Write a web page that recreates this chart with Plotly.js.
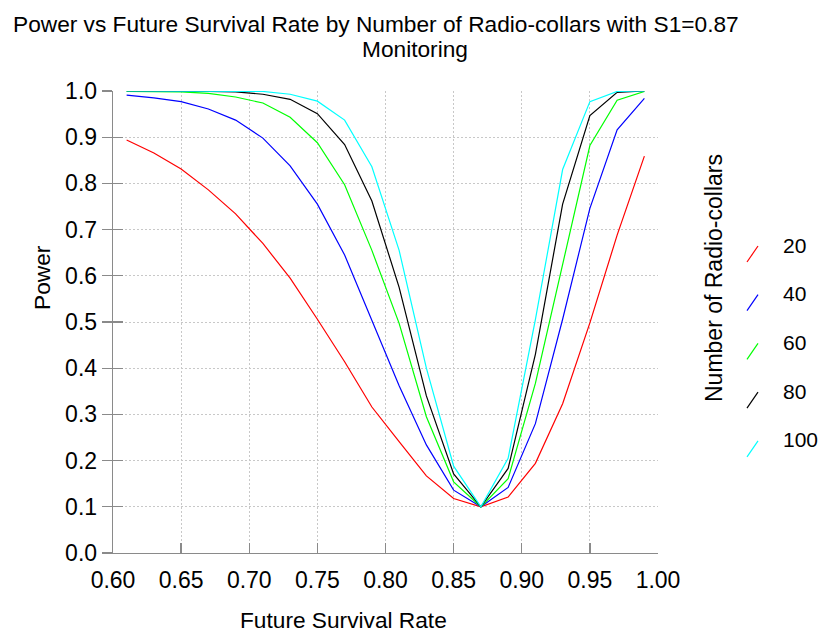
<!DOCTYPE html>
<html>
<head>
<meta charset="utf-8">
<script src="https://cdn.plot.ly/plotly-3.0.1.min.js"></script>
<style>html,body{margin:0;padding:0;background:#fff;}#chart{width:818px;height:634px;}</style>
</head>
<body>
<div id="chart"></div>
<script>
// ---- data ----
const survivalRates = [0.61,0.63,0.65,0.67,0.69,0.71,0.73,0.75,0.77,0.79,0.81,0.83,0.85,0.87,0.89,0.91,0.93,0.95,0.97,0.99];
const collarCounts = ["20","40","60","80","100"];
const power20  = [0.894,0.866,0.831,0.786,0.734,0.670,0.595,0.506,0.414,0.316,0.241,0.167,0.118,0.100,0.121,0.194,0.323,0.498,0.688,0.859];
const power40  = [0.991,0.985,0.977,0.961,0.937,0.898,0.838,0.755,0.645,0.505,0.362,0.234,0.136,0.100,0.142,0.280,0.506,0.746,0.916,0.984];
const power60  = [0.999,0.999,0.998,0.995,0.987,0.974,0.943,0.888,0.797,0.655,0.497,0.295,0.154,0.100,0.161,0.367,0.622,0.882,0.980,0.999];
const power80  = [1.000,1.000,1.000,0.999,0.998,0.993,0.982,0.951,0.884,0.762,0.575,0.340,0.171,0.100,0.183,0.430,0.755,0.947,0.997,1.000];
const power100 = [1.000,1.000,1.000,1.000,1.000,0.999,0.993,0.978,0.937,0.836,0.655,0.400,0.188,0.100,0.205,0.505,0.830,0.977,0.999,1.000];
const seriesValues = [power20, power40, power60, power80, power100];
const seriesColors = ["#ff0000","#0000ff","#00ff00","#000000","#00ffff"];
const xTickVals = [0.60,0.65,0.70,0.75,0.80,0.85,0.90,0.95,1.00];
const yTickVals = [0.0,0.1,0.2,0.3,0.4,0.5,0.6,0.7,0.8,0.9,1.0];
const titleLine1 = "Power vs Future Survival Rate by Number of Radio-collars with S1=0.87";
const titleLine2 = "Monitoring";
const xTitle = "Future Survival Rate";
const yTitle = "Power";
const legendTitle = "Number of Radio-collars";

// ---- layout geometry ----
const W = 818, H = 634;
const M = {l: 113, r: 160, t: 91, b: 81};
const PW = W - M.l - M.r, PH = H - M.t - M.b;
const px = v => (v - M.l) / PW;          // pixel x -> paper
const py = v => (H - M.b - v) / PH;      // pixel y -> paper
const FONT = "Liberation Sans, Arial, sans-serif";
const axisGray = "#8a8a8a";
const tickFont = {family: FONT, size: 23, color: "#000"};

const traces = seriesValues.map((vals, i) => ({
  type: "scatter", mode: "lines",
  x: survivalRates, y: vals,
  name: collarCounts[i],
  line: {color: seriesColors[i], width: 1.2},
  hoverinfo: "skip"
}));
// empty helper trace so the overlaid inner-tick axis is drawn
traces.push({type: "scatter", mode: "lines", x: [], y: [], yaxis: "y2", showlegend: false, hoverinfo: "skip"});

const annotations = [
  {text: titleLine1, x: px(376), y: py(24), xref: "paper", yref: "paper", xanchor: "center", yanchor: "middle", showarrow: false, font: {family: FONT, size: 22.7, color: "#000"}},
  {text: titleLine2, x: px(415), y: py(49), xref: "paper", yref: "paper", xanchor: "center", yanchor: "middle", showarrow: false, font: {family: FONT, size: 22.7, color: "#000"}},
  {text: xTitle, x: px(343), y: py(620), xref: "paper", yref: "paper", xanchor: "center", yanchor: "middle", showarrow: false, font: {family: FONT, size: 22.7, color: "#000"}},
  {text: yTitle, x: px(42), y: py(278), xref: "paper", yref: "paper", xanchor: "center", yanchor: "middle", textangle: -90, showarrow: false, font: {family: FONT, size: 22.7, color: "#000"}},
  {text: legendTitle, x: px(714), y: py(278), xref: "paper", yref: "paper", xanchor: "center", yanchor: "middle", textangle: -90, showarrow: false, font: {family: FONT, size: 23, color: "#000"}}
];
const shapes = [];
const legTop = 245, legStep = 48.7;
collarCounts.forEach((lab, i) => {
  const cy = legTop + i * legStep;
  annotations.push({text: lab, x: px(781), y: py(cy), xref: "paper", yref: "paper", xanchor: "left", yanchor: "middle", showarrow: false, font: {family: FONT, size: 21, color: "#000"}});
  shapes.push({type: "line", xref: "paper", yref: "paper", x0: px(747), y0: py(cy + 17), x1: px(758), y1: py(cy + 1), line: {color: seriesColors[i], width: 1.2}});
});

const layout = {
  width: W, height: H,
  margin: M,
  paper_bgcolor: "#fff", plot_bgcolor: "#fff",
  showlegend: false,
  font: {family: FONT, size: 22, color: "#000"},
  xaxis: {
    range: [0.6, 1.0], tickvals: xTickVals, tickformat: ".2f",
    ticks: "inside", ticklen: 10, tickcolor: axisGray, tickwidth: 1.3,
    showline: true, linecolor: axisGray, linewidth: 1.3,
    showgrid: true, gridcolor: "#c8c8c8", gridwidth: 1, griddash: "2px,2px",
    zeroline: false, tickfont: tickFont, ticklabelstandoff: 6
  },
  yaxis: {
    range: [0, 1.0], tickvals: yTickVals, tickformat: ".1f",
    ticks: "outside", ticklen: 10, tickcolor: axisGray, tickwidth: 1.3,
    showline: true, linecolor: axisGray, linewidth: 1.3,
    showgrid: true, gridcolor: "#c8c8c8", gridwidth: 1, griddash: "2px,2px",
    zeroline: false, tickfont: tickFont
  },
  yaxis2: {
    overlaying: "y", side: "left", range: [0, 1.0], tickvals: yTickVals,
    ticks: "inside", ticklen: 10, tickcolor: axisGray, tickwidth: 1.3,
    showticklabels: false, showgrid: false, zeroline: false, showline: false
  },
  annotations: annotations,
  shapes: shapes
};

Plotly.newPlot("chart", traces, layout, {displayModeBar: false, staticPlot: true});
</script>
</body>
</html>
